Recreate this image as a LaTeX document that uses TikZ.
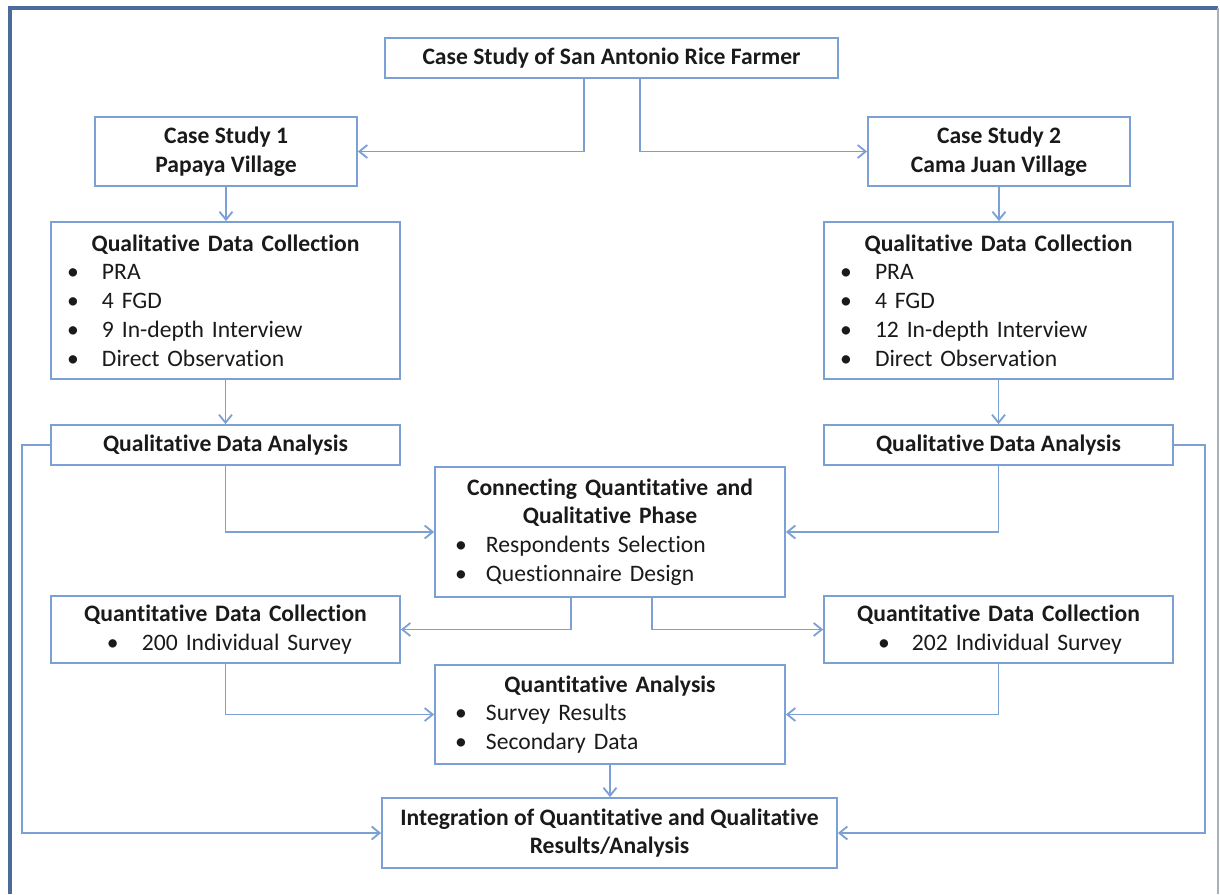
\documentclass[tikz,border=0pt]{standalone}
\usepackage{fontspec}
\setmainfont{Carlito}[Ligatures=NoCommon]
\usetikzlibrary{arrows.meta,calc}
\definecolor{boxc}{HTML}{7BA0D4}
\definecolor{framec}{HTML}{4A6C9B}
\definecolor{edgec}{HTML}{A8B0BE}
\definecolor{txt}{HTML}{1A1A1A}
\newcommand\itm[3]{\par\noindent\hspace*{#1}\makebox[#2][l]{•}#3}
\begin{document}
\begin{tikzpicture}[x=0.5pt,y=-0.5pt,
  box/.style={draw=boxc,line width=0.9pt,inner xsep=0pt,inner ysep=0pt,align=center,
    font=\fontsize{11.8}{14.4}\selectfont,text=txt},
  lbox/.style={box,align=left},
  link/.style={draw=boxc,line width=0.9pt,-{Straight Barb[length=4pt,width=6.5pt]}}]
\useasboundingbox (0,0) rectangle (1220,894);
\fill[white] (0,0) rectangle (1220,894);
\draw[framec,line width=1.8pt] (10,894) -- (10,8) -- (1218,8);
\draw[edgec,line width=0.6pt] (1218,8) -- (1218,894);

\node[box,minimum width=226.5pt,minimum height=20pt] (top) at (611.5,58) {\bfseries Case Study of San Antonio Rice Farmer};
\node[box,minimum width=131pt,minimum height=34.5pt] (cs1) at (226,151.5) {\bfseries Case Study 1\\\bfseries Papaya Village};
\node[box,minimum width=131pt,minimum height=34.5pt] (cs2) at (999,151.5) {\bfseries Case Study 2\\\bfseries Cama Juan Village};

\node[lbox,minimum width=174.5pt,text width=174.5pt,minimum height=78.5pt] (qdc1) at (225.5,300.5) {{\centering\bfseries Qualitative Data Collection\par}\itm{8pt}{17.5pt}{PRA}\itm{8pt}{17.5pt}{4 FGD}\itm{8pt}{17.5pt}{9 In-depth Interview}\itm{8pt}{17.5pt}{Direct Observation}};
\node[lbox,minimum width=174.5pt,text width=174.5pt,minimum height=78.5pt] (qdc2) at (998.5,300.5) {{\centering\bfseries Qualitative Data Collection\par}\itm{8pt}{17.5pt}{PRA}\itm{8pt}{17.5pt}{4 FGD}\itm{8pt}{17.5pt}{12 In-depth Interview}\itm{8pt}{17.5pt}{Direct Observation}};

\node[box,minimum width=174.5pt,minimum height=20pt] (qda1) at (225.5,445) {\bfseries Qualitative Data Analysis};
\node[box,minimum width=174.5pt,minimum height=20pt] (qda2) at (998.5,445) {\bfseries Qualitative Data Analysis};

\node[lbox,minimum width=175pt,text width=175pt,minimum height=65pt] (conn) at (610,532) {{\centering\bfseries Connecting Quantitative and\\Qualitative Phase\par}\itm{10pt}{15.5pt}{Respondents Selection}\itm{10pt}{15.5pt}{Questionnaire Design}};

\node[lbox,minimum width=174.5pt,text width=174.5pt,minimum height=33.5pt] (qn1) at (225.5,629.5) {{\centering\bfseries Quantitative Data Collection\par}\itm{28pt}{17.5pt}{200 Individual Survey}};
\node[lbox,minimum width=174.5pt,text width=174.5pt,minimum height=33.5pt] (qn2) at (998.5,629.5) {{\centering\bfseries Quantitative Data Collection\par}\itm{27pt}{17pt}{202 Individual Survey}};

\node[lbox,minimum width=175pt,text width=175pt,minimum height=49.5pt] (qa) at (610,714.5) {{\centering\bfseries Quantitative Analysis\par}\itm{10pt}{15.5pt}{Survey Results}\itm{10pt}{15.5pt}{Secondary Data}};

\node[box,minimum width=227.5pt,minimum height=35pt] (integ) at (609.5,833) {\bfseries Integration of Quantitative and Qualitative\\\bfseries Results/Analysis};

\coordinate (lx) at (22,0);
\coordinate (rx) at (1205,0);

\draw[link] ($(top.south)+(-27.5,0)$) |- (cs1.east);
\draw[link] ($(top.south)+(28.5,0)$) |- (cs2.west);
\draw[link] (cs1.south) -- (cs1.south |- qdc1.north);
\draw[link] (cs2.south) -- (cs2.south |- qdc2.north);
\draw[link] (qdc1.south) -- (qda1.north);
\draw[link] (qdc2.south) -- (qda2.north);
\draw[link] (qda1.south) |- (conn.west);
\draw[link] (qda2.south) |- (conn.east);
\draw[link] (qda1.west) -- (qda1.west -| lx) |- (integ.west);
\draw[link] (qda2.east) -- (qda2.east -| rx) |- (integ.east);
\draw[link] ($(conn.south)+(-39,0)$) |- (qn1.east);
\draw[link] ($(conn.south)+(42,0)$) |- (qn2.west);
\draw[link] (qn1.south) |- (qa.west);
\draw[link] (qn2.south) |- (qa.east);
\draw[link] (qa.south) -- (qa.south |- integ.north);
\end{tikzpicture}
\end{document}
